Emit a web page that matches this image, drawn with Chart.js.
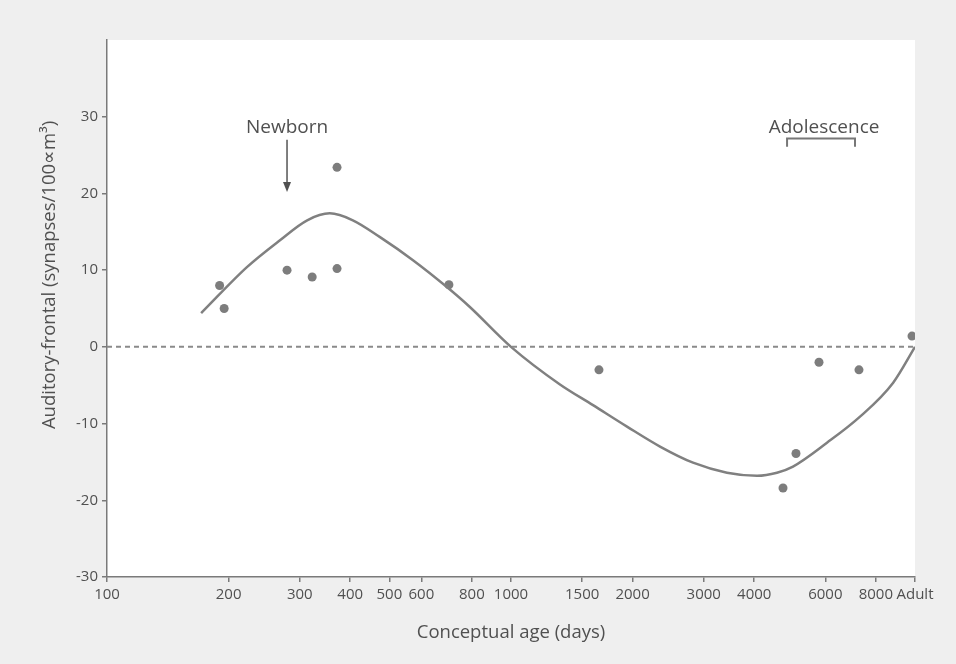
<!DOCTYPE html>
<html><head><meta charset="utf-8">
<script src="https://cdn.jsdelivr.net/npm/chart.js@4.4.1/dist/chart.umd.min.js"></script>
<style>html,body{margin:0;padding:0;background:#efefef;}canvas{display:block;}</style>
</head><body>
<canvas id="c" width="956" height="664"></canvas>
<script>
// ---- data ----
const xTickValues = [100,200,300,400,500,600,800,1000,1500,2000,3000,4000,6000,8000,10000];
const xTickLabels = ['100','200','300','400','500','600','800','1000','1500','2000','3000','4000','6000','8000','Adult'];
const yTickValues = [-30,-20,-10,0,10,20,30];
const pointAges   = [190,195,279,322,371,371,702,1651,4713,5075,5786,7267,9830];
const pointValues = [8.0,5.0,10.0,9.1,23.4,10.2,8.1,-3.0,-18.4,-13.9,-2.0,-3.0,1.4];
const curveAges   = [171,222,268,313,356,406,474,572,694,791,1000,1322,1596,1937,2338,2822,3424,4064,4553,4989,6055,7310,8822,10000];
const curveValues = [4.4,10.4,13.9,16.5,17.4,16.5,14.3,11.3,7.8,5.2,0,-4.9,-7.6,-10.4,-13.0,-15.1,-16.4,-16.8,-16.4,-15.6,-12.5,-9.1,-4.7,0];
const baselineAges   = [100,10000];
const baselineValues = [0,0];
const newbornLabel = 'Newborn';
const newbornAge = 279;
const adolescenceLabel = 'Adolescence';
const adolescenceRange = [4823, 7104];
const xTitle = 'Conceptual age (days)';
const yTitle = 'Auditory-frontal (synapses/100\u221Dm\u00B3)';

// ---- styling ----
const TEXT = '#505050';
const AXIS = '#7a7a7a';
const MARK = '#7d7d7d';
Chart.defaults.font.family = "'Open Sans', sans-serif";
Chart.defaults.color = TEXT;

const zip = (xs, ys) => xs.map((x, i) => ({x, y: ys[i]}));

const bgPlugin = {
  id: 'bg',
  beforeDraw(chart) {
    const {ctx, chartArea: a} = chart;
    ctx.save();
    ctx.fillStyle = '#efefef';
    ctx.fillRect(0, 0, chart.width, chart.height);
    ctx.fillStyle = '#ffffff';
    ctx.fillRect(a.left, a.top, a.right - a.left, a.bottom - a.top);
    ctx.restore();
  }
};

const annPlugin = {
  id: 'ann',
  afterDraw(chart) {
    const {ctx} = chart;
    const xs = chart.scales.x, ys = chart.scales.y;
    ctx.save();
    ctx.fillStyle = TEXT;
    ctx.strokeStyle = '#555555';
    ctx.font = "19px 'Open Sans', sans-serif";
    ctx.textAlign = 'center';
    ctx.textBaseline = 'middle';
    // Newborn
    const nx = xs.getPixelForValue(newbornAge);
    ctx.fillText(newbornLabel, nx, ys.getPixelForValue(28.6));
    const y0 = ys.getPixelForValue(27.0), y1 = ys.getPixelForValue(20.2);
    ctx.lineWidth = 1.5;
    ctx.beginPath(); ctx.moveTo(nx, y0); ctx.lineTo(nx, y1 - 8); ctx.stroke();
    ctx.beginPath(); ctx.moveTo(nx - 4, y1 - 10); ctx.lineTo(nx + 4, y1 - 10); ctx.lineTo(nx, y1); ctx.closePath(); ctx.fill();
    // Adolescence
    const ax0 = xs.getPixelForValue(adolescenceRange[0]);
    const ax1 = xs.getPixelForValue(adolescenceRange[1]);
    ctx.fillText(adolescenceLabel, xs.getPixelForValue(5955), ys.getPixelForValue(28.6));
    const by = ys.getPixelForValue(27.15), bt = ys.getPixelForValue(26.1);
    ctx.lineWidth = 2;
    ctx.strokeStyle = '#777777';
    ctx.beginPath(); ctx.moveTo(ax0, bt); ctx.lineTo(ax0, by); ctx.lineTo(ax1, by); ctx.lineTo(ax1, bt); ctx.stroke();
    // Y title
    ctx.font = "18.5px 'Open Sans', sans-serif";
    ctx.translate(50, 275);
    ctx.rotate(-Math.PI / 2);
    ctx.fillText(yTitle, 0, 0);
    ctx.restore();
  }
};

new Chart(document.getElementById('c'), {
  type: 'scatter',
  data: {
    datasets: [
      {
        label: 'baseline',
        data: zip(baselineAges, baselineValues),
        showLine: true, pointRadius: 0, borderColor: '#8a8a8a', borderWidth: 2,
        borderDash: [5, 4], fill: false
      },
      {
        label: 'fit',
        data: zip(curveAges, curveValues),
        showLine: true, pointRadius: 0, borderColor: '#808080', borderWidth: 2.5,
        cubicInterpolationMode: 'monotone', fill: false
      },
      {
        label: 'samples',
        data: zip(pointAges, pointValues),
        showLine: false, pointRadius: 4.5, pointBackgroundColor: MARK, pointBorderWidth: 0,
        backgroundColor: MARK, borderColor: MARK
      }
    ]
  },
  options: {
    responsive: false,
    animation: false,
    devicePixelRatio: 1,
    layout: {padding: {top: 40, left: 0, right: 41, bottom: 0}},
    plugins: {legend: {display: false}, tooltip: {enabled: false}},
    scales: {
      x: {
        type: 'logarithmic', min: 100, max: 10000,
        afterBuildTicks(s) { s.ticks = xTickValues.map(v => ({value: v})); },
        afterFit(s) { s.height = 87; },
        ticks: {
          autoSkip: false, maxRotation: 0, minRotation: 0, padding: 4,
          font: {size: 15}, color: TEXT,
          callback(v) { const i = xTickValues.indexOf(v); return i >= 0 ? xTickLabels[i] : ''; }
        },
        grid: {display: true, drawOnChartArea: false, drawTicks: true, tickLength: 5, color: AXIS, lineWidth: 1.5},
        border: {display: true, color: AXIS, width: 1.5},
        title: {display: true, text: xTitle, font: {size: 18.5}, color: TEXT, padding: {top: 0, bottom: 20}}
      },
      y: {
        min: -30, max: 40,
        afterBuildTicks(s) { s.ticks = yTickValues.map(v => ({value: v})); },
        afterFit(s) { s.width = 107; },
        ticks: {font: {size: 15}, color: TEXT, padding: 4},
        grid: {display: true, drawOnChartArea: false, drawTicks: true, tickLength: 5, color: AXIS, lineWidth: 1.5},
        border: {display: true, color: AXIS, width: 1.5}
      }
    }
  },
  plugins: [bgPlugin, annPlugin]
});
</script>
</body></html>
